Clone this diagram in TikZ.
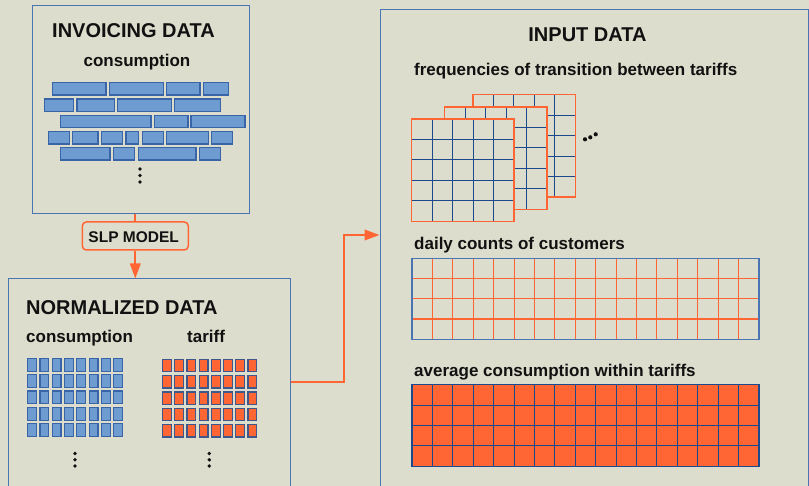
\documentclass[tikz,border=0pt]{standalone}
\usepackage{fontspec}
\setmainfont{Liberation Sans}
\usetikzlibrary{arrows.meta,calc}
\definecolor{bgc}{RGB}{221,221,205}
\definecolor{boxblue}{RGB}{74,116,178}
\definecolor{brickfill}{RGB}{110,155,208}
\definecolor{brickline}{RGB}{58,100,168}
\definecolor{orng}{RGB}{255,102,51}
\definecolor{navy}{RGB}{28,72,140}
\definecolor{cellline}{RGB}{62,88,140}
\definecolor{txt}{RGB}{17,17,17}
\tikzset{
  panel/.style={draw=boxblue,line width=1pt,anchor=north west,inner sep=0pt},
  title/.style={font=\bfseries\fontsize{20}{24}\selectfont,text=txt,inner sep=0pt},
  subtitle/.style={font=\bfseries\fontsize{17}{20}\selectfont,text=txt,inner sep=0pt},
  slpbox/.style={draw=orng,line width=1.5pt,rounded corners=4pt,minimum width=106pt,minimum height=28pt,inner sep=0pt,font=\bfseries\fontsize{15.5}{18}\selectfont,text=txt},
  conn/.style={draw=orng,line width=2pt},
  tip/.style={-{Triangle[length=15pt,width=10.5pt]}},
  brick/.style={fill=brickfill,draw=brickline,line width=1.3pt},
  bcell/.style={fill=brickfill,draw=brickline,line width=1.2pt},
  ocell/.style={fill=orng,draw=cellline,line width=1.2pt},
  vdot/.style={fill=txt,draw=none}
}
\begin{document}
\begin{tikzpicture}[x=1pt,y=-1pt]
\fill[bgc] (0,0) rectangle (809,486);
\useasboundingbox (0,0) rectangle (809,486);
\clip (0,0) rectangle (809,486);

% panels
\node[panel,minimum width=217pt,minimum height=208pt] (inv) at (32,5) {};
\node[panel,minimum width=282pt,minimum height=230pt] (norm) at (7.5,278.5) {};
\node[panel,minimum width=428.5pt,minimum height=500pt] (inp) at (379.5,9.5) {};

% INVOICING
\node[title,anchor=base] (invt) at (133.5,37.5) {INVOICING DATA};
\node[subtitle,anchor=base] (invc) at (137,66.7) {consumption};
% bricks
\foreach \a/\b in {52.3/106,109.3/163.3,166.3/200,203.3/228.7}
  \draw[brick] (\a,82.5) rectangle (\b,95);
\foreach \a/\b in {44.3/73.3,77/114.3,117.7/171.7,174.7/220.7}
  \draw[brick] (\a,99) rectangle (\b,111.3);
\foreach \a/\b in {60.3/151,154.3/188,191/245}
  \draw[brick] (\a,115.5) rectangle (\b,127.8);
\foreach \a/\b in {48.3/69.3,72.7/98,101.3/122.7,126/138.7,142.3/163.3,166.3/208.3,211.3/232.7}
  \draw[brick] (\a,131.8) rectangle (\b,144);
\foreach \a/\b in {60.3/110,113.3/134.7,138.3/196,199.3/220.7}
  \draw[brick] (\a,147.8) rectangle (\b,160);
\foreach \y in {169,175.5,182} \fill[vdot] (140,\y) circle (1.9);

% SLP
\node[slpbox] (slp) at (135.3,236) {};
\node[font=\bfseries\fontsize{15.5}{18}\selectfont,text=txt,inner sep=0pt,anchor=base] (slpt) at (133.7,242.3) {SLP MODEL};
\draw[conn] (slp.north) -- (slp.north |- inv.south);
\draw[conn,tip] (slp.south) -- (slp.south |- norm.north);

% NORMALIZED
\node[title,anchor=base west] (normt) at (26,314.3) {NORMALIZED DATA};
\node[subtitle,anchor=base west] (normc) at (26,342.7) {consumption};
\node[subtitle,anchor=base west] (normf) at (187,342.7) {tariff};
\foreach \i in {0,...,7}
  \foreach \j in {0,...,4} {
    \draw[bcell] (27.6+12.3*\i,358.5+16.3*\j) rectangle ++(8.8,12.8);
    \draw[ocell] (162.6+12.2*\i,359.5+16.3*\j) rectangle ++(8.8,12.2);
  }
\foreach \y in {453.5,459.8,466} {
  \fill[vdot] (75,\y) circle (1.9);
  \fill[vdot] (209.3,\y) circle (1.9);
}

% connector
\coordinate (bend) at (344,235);
\draw[conn,tip] ([yshift=-104pt]norm.north east) -| (bend) -- (bend -| inp.west);

% INPUT DATA
\node[title,anchor=base] (inpt) at (587.5,41.3) {INPUT DATA};
\node[subtitle,anchor=base west] (freq) at (414,76) {frequencies of transition between tariffs};
\foreach \ox/\oy in {473/94.7,444.7/107,411.7/119} {
  \fill[bgc] (\ox,\oy) rectangle ++(102.3,102.3);
  \foreach \k in {1,...,4} {
    \draw[navy,line width=1.1pt] (\ox+20.46*\k,\oy) -- ++(0,102.3);
    \draw[navy,line width=1.1pt] (\ox,\oy+20.46*\k) -- ++(102.3,0);
  }
  \draw[orng,line width=1.4pt] (\ox,\oy) rectangle ++(102.3,102.3);
}
\fill[vdot] (585,139.3) circle (2.1);
\fill[vdot] (590.3,137.3) circle (2.1);
\fill[vdot] (595.7,134.3) circle (2.1);

\node[subtitle,anchor=base west] (daily) at (414,250) {daily counts of customers};
\foreach \k in {1,...,16}
  \draw[orng,line width=1.1pt] (412+20.41*\k,258.3) -- (412+20.41*\k,339.3);
\foreach \k in {1,2,3}
  \draw[orng,line width=1.1pt] (412,258.3+20.25*\k) -- (759,258.3+20.25*\k);
\draw[boxblue,line width=1.2pt] (412,258.3) rectangle (759,339.3);

\node[subtitle,anchor=base west] (avg) at (414,376.7) {average consumption within tariffs};
\fill[orng] (412,384.7) rectangle (759,466.3);
\foreach \k in {1,...,16}
  \draw[navy,line width=1.1pt] (412+20.41*\k,384.7) -- (412+20.41*\k,466.3);
\foreach \k in {1,2,3}
  \draw[navy,line width=1.1pt] (412,384.7+20.4*\k) -- (759,384.7+20.4*\k);
\draw[navy,line width=1.2pt] (412,384.7) rectangle (759,466.3);
\end{tikzpicture}
\end{document}
